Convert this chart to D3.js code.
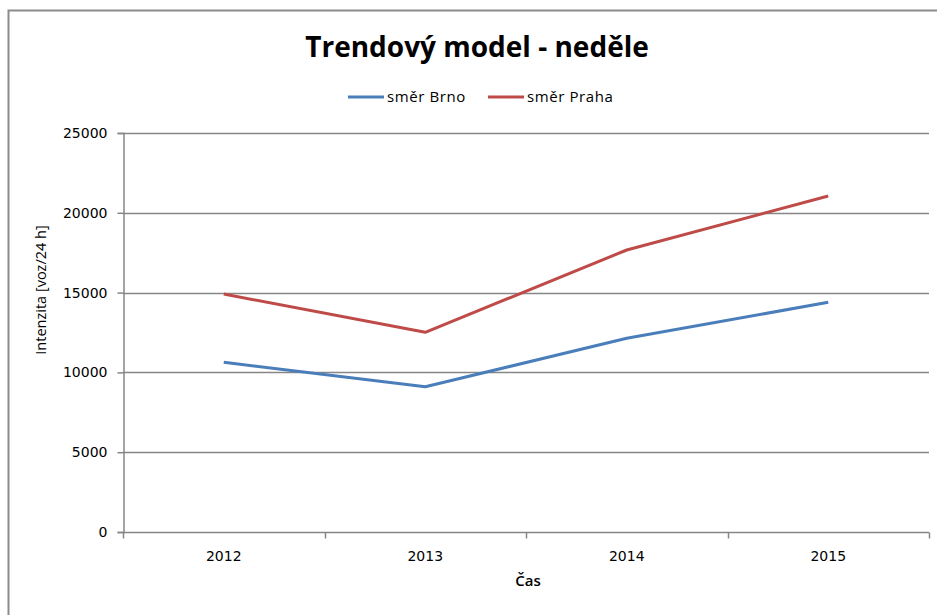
<!DOCTYPE html>
<html>
<head>
<meta charset="utf-8">
<script src="https://cdn.jsdelivr.net/npm/d3@7"></script>
<style>
  body { margin: 0; background: #fff; }
  svg { display: block; }
  text { font-family: "Open Sans", sans-serif; fill: #000; }
</style>
</head>
<body>
<svg id="chart" width="937" height="615"></svg>
<script>
// data
const years = ["2012", "2013", "2014", "2015"];
const brno = [10630, 9100, 12140, 14390];
const praha = [14910, 12510, 17670, 21050];
const yTicks = [0, 5000, 10000, 15000, 20000, 25000];
const seriesNames = ["směr Brno", "směr Praha"];
const seriesColors = ["#4a7ebb", "#be4b48"];

const svg = d3.select("#chart");
const margin = {left: 123, right: 8, top: 133, bottom: 83};
const width = 937, height = 615;

// outer chart border (left + top only visible)
svg.append("path")
    .attr("d", "M8.5,615 V10.5 H937")
    .attr("fill", "none")
    .attr("stroke", "#8c8c8c")
    .attr("stroke-width", 2);

const x = d3.scaleBand()
    .domain(years)
    .range([margin.left, width - margin.right]);

const y = d3.scaleLinear()
    .domain([0, 25000])
    .range([height - margin.bottom, margin.top]);

// gridlines
svg.append("g")
    .selectAll("line")
    .data(yTicks.filter(d => d > 0))
    .enter().append("line")
    .attr("x1", margin.left)
    .attr("x2", width - margin.right)
    .attr("y1", d => Math.round(y(d)) + 0.5)
    .attr("y2", d => Math.round(y(d)) + 0.5)
    .attr("stroke", "#868686")
    .attr("stroke-width", 1.5);

// y axis
const yAxis = svg.append("g")
    .attr("transform", `translate(${margin.left + 0.5},0)`)
    .call(d3.axisLeft(y).tickValues(yTicks).tickSize(6).tickPadding(10).tickFormat(d3.format("d")));
yAxis.select(".domain").attr("stroke", "#868686").attr("stroke-width", 1.5);
yAxis.selectAll(".tick line").attr("stroke", "#868686").attr("stroke-width", 1.5);
yAxis.selectAll("text")
    .style("font-family", "'DejaVu Sans', sans-serif")
    .style("font-size", "14px")
    .attr("fill", "#000");

// x axis: ticks at category boundaries
const xAxisG = svg.append("g")
    .attr("transform", `translate(0,${Math.round(y(0)) + 0.5})`);
xAxisG.append("line")
    .attr("x1", margin.left)
    .attr("x2", width - margin.right)
    .attr("stroke", "#868686")
    .attr("stroke-width", 1.5);
const bounds = years.map(d => x(d)).concat([x(years[years.length - 1]) + x.bandwidth()]);
xAxisG.selectAll(".bt")
    .data(bounds)
    .enter().append("line")
    .attr("x1", d => Math.round(d) + 0.5)
    .attr("x2", d => Math.round(d) + 0.5)
    .attr("y1", 0)
    .attr("y2", 6)
    .attr("stroke", "#868686")
    .attr("stroke-width", 1.5);
xAxisG.selectAll(".lbl")
    .data(years)
    .enter().append("text")
    .attr("x", d => x(d) + x.bandwidth() / 2)
    .attr("y", 28)
    .attr("text-anchor", "middle")
    .style("font-family", "'DejaVu Sans', sans-serif")
    .style("font-size", "14px")
    .text(d => d);

// lines
const line = d3.line()
    .x((d, i) => x(years[i]) + x.bandwidth() / 2)
    .y(d => y(d));

[brno, praha].forEach((vals, i) => {
    svg.append("path")
        .datum(vals)
        .attr("fill", "none")
        .attr("stroke", seriesColors[i])
        .attr("stroke-width", 3)
        .attr("stroke-linejoin", "round")
        .attr("d", line);
});

// title
svg.append("text")
    .attr("x", 477)
    .attr("y", 57)
    .attr("text-anchor", "middle")
    .style("font-size", "28px")
    .style("font-weight", "bold")
    .text("Trendový model - neděle");

// legend
const legendX = [348, 488];
const legend = svg.append("g");
seriesNames.forEach((name, i) => {
    legend.append("line")
        .attr("x1", legendX[i])
        .attr("x2", legendX[i] + 36)
        .attr("y1", 97)
        .attr("y2", 97)
        .attr("stroke", seriesColors[i])
        .attr("stroke-width", 3);
    legend.append("text")
        .attr("x", legendX[i] + 39)
        .attr("y", 102)
        .style("font-size", "15px")
        .style("letter-spacing", "0.6px")
        .text(name);
});

// axis titles
svg.append("text")
    .attr("x", 528)
    .attr("y", 586)
    .attr("text-anchor", "middle")
    .style("font-size", "15px")
    .style("font-weight", "600")
    .text("Čas");

svg.append("text")
    .attr("transform", "translate(46,290) rotate(-90)")
    .attr("text-anchor", "middle")
    .style("font-size", "14.5px")
    .text("Intenzita [voz/24 h]");
</script>
</body>
</html>
